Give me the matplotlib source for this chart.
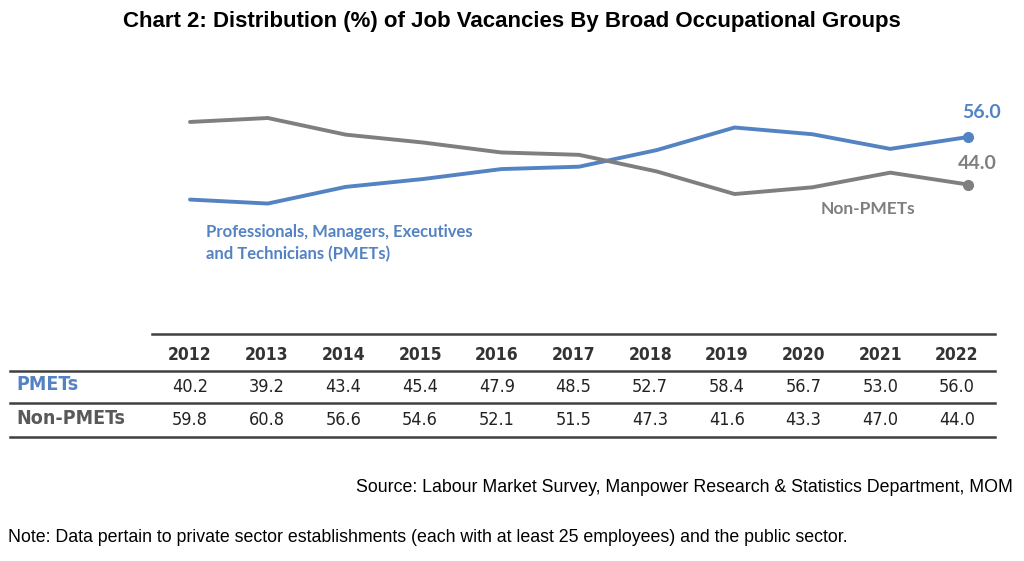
import numpy as np
import matplotlib.pyplot as plt

years = [2012, 2013, 2014, 2015, 2016, 2017, 2018, 2019, 2020, 2021, 2022]
pmets = [40.2, 39.2, 43.4, 45.4, 47.9, 48.5, 52.7, 58.4, 56.7, 53.0, 56.0]
non_pmets = [59.8, 60.8, 56.6, 54.6, 52.1, 51.5, 47.3, 41.6, 43.3, 47.0, 44.0]

blue = '#5483C4'
grey = '#7F7F7F'
W, H = 1024, 561

fig = plt.figure(figsize=(W / 100, H / 100), dpi=100)

def fx(px):
    return px / W

def fy(py):
    return 1 - py / H

y_lo, y_hi = 35, 65
top_px = 118 - (y_hi - 60.8) * 3.96
bot_px = 118 + (60.8 - y_lo) * 3.96
ax = fig.add_axes([fx(190), fy(bot_px), fx(968 - 190), (bot_px - top_px) / H])
ax.set_xlim(years[0], years[-1])
ax.set_ylim(y_lo, y_hi)
ax.axis('off')

ax.plot(years, pmets, color=blue, lw=2.8, solid_capstyle='round', clip_on=False)
ax.plot(years, non_pmets, color=grey, lw=2.8, solid_capstyle='round', clip_on=False)
ax.plot(years[-1], pmets[-1], 'o', color=blue, ms=7, clip_on=False)
ax.plot(years[-1], non_pmets[-1], 'o', color=grey, ms=7, clip_on=False)

lab = dict(family=['Lato', 'DejaVu Sans'], fontweight='bold')
ax.annotate(f'{pmets[-1]:.1f}', (years[-1], pmets[-1]), xytext=(10, 18),
            textcoords='offset points', ha='center', va='center',
            color=blue, fontsize=14, **lab)
ax.annotate(f'{non_pmets[-1]:.1f}', (years[-1], non_pmets[-1]), xytext=(7, 15),
            textcoords='offset points', ha='center', va='center',
            color=grey, fontsize=14, **lab)

fig.text(fx(868), fy(209), 'Non-PMETs', color=grey, fontsize=12.5,
         ha='center', va='center', **lab)
fig.text(fx(206), fy(243), 'Professionals, Managers, Executives\nand Technicians (PMETs)',
         color=blue, fontsize=12, ha='left', va='center', linespacing=1.45, **lab)

# title
fig.text(0.5, fy(21), 'Chart 2: Distribution (%) of Job Vacancies By Broad Occupational Groups',
         ha='center', va='center', fontsize=16, fontweight='bold',
         family=['Liberation Sans', 'DejaVu Sans'])

# table
narrow = dict(family='DejaVu Sans', fontstretch='condensed')
cols = np.linspace(190, 957, len(years))
line_c = '#404040'
fig.add_artist(plt.Line2D([fx(152), fx(995)], [fy(334), fy(334)], color=line_c, lw=1.8))
for yy in [371, 403, 437]:
    fig.add_artist(plt.Line2D([fx(10), fx(995)], [fy(yy), fy(yy)], color=line_c, lw=1.8))

for x, yr, p, n in zip(cols, years, pmets, non_pmets):
    fig.text(fx(x), fy(355), str(yr), ha='center', va='center', fontsize=12.5,
             fontweight='bold', color='#333333', **narrow)
    fig.text(fx(x), fy(387), f'{p:.1f}', ha='center', va='center', fontsize=13,
             color='#222222', **narrow)
    fig.text(fx(x), fy(420), f'{n:.1f}', ha='center', va='center', fontsize=13,
             color='#222222', **narrow)

fig.text(fx(16), fy(385), 'PMETs', ha='left', va='center', fontsize=14,
         fontweight='bold', color=blue, **narrow)
fig.text(fx(16), fy(419), 'Non-PMETs', ha='left', va='center', fontsize=14,
         fontweight='bold', color='#595959', **narrow)

sans = ['Liberation Sans', 'DejaVu Sans']
fig.text(fx(1013), fy(488), 'Source: Labour Market Survey, Manpower Research & Statistics Department, MOM',
         ha='right', va='center', fontsize=12.8, family=sans)
fig.text(fx(8), fy(537), 'Note: Data pertain to private sector establishments (each with at least 25 employees) and the public sector.',
         ha='left', va='center', fontsize=12.8, family=sans)

fig.savefig('out.png', dpi=100)
